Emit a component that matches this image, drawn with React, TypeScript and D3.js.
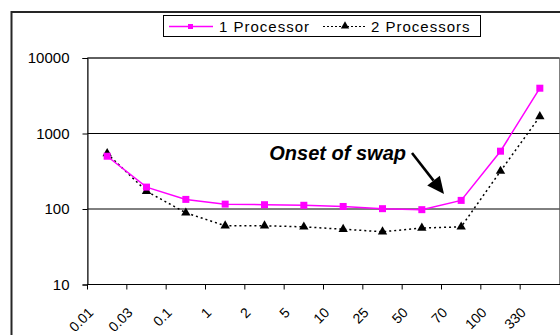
import React, { useRef, useEffect } from 'react';
import * as d3 from 'd3';

// --- Data ---
const categories = ['0.01', '0.03', '0.1', '1', '2', '5', '10', '25', '50', '70', '100', '330'];
const oneProcessor = [500, 195, 134, 116, 114, 112, 108, 101, 98, 130, 583, 3980];
const twoProcessors = [543, 172, 89, 60, 60, 58, 54, 50, 56, 58, 317, 1680];
const yTicks = [10, 100, 1000, 10000];
const seriesNames = ['1 Processor', '2 Processors'];
const annotation = 'Onset of swap';

const FONT = '"Liberation Sans", Arial, sans-serif';

const App = () => {
  const svgRef = useRef<SVGSVGElement>(null);
  const width = 560;
  const height = 335;

  useEffect(() => {
    const svg = d3.select(svgRef.current)
      .attr('width', width)
      .attr('height', height)
      .html('');

    // outer chart frame (runs off the picture on right and bottom)
    svg.append('rect')
      .attr('x', 11.5).attr('y', 12)
      .attr('width', 620).attr('height', 400)
      .attr('fill', '#fff')
      .attr('stroke', '#262626')
      .attr('stroke-width', 2);

    // --- Scales ---
    const x = d3.scaleBand<string>()
      .domain(categories)
      .range([87.5, 559.5]);

    const y = d3.scaleLog()
      .domain([10, 10000])
      .range([284.5, 58]);

    const [x0, x1] = x.range();
    const [yb, yt] = y.range();

    // plot area border
    svg.append('rect')
      .attr('x', x0).attr('y', yt)
      .attr('width', x1 - x0).attr('height', yb - yt)
      .attr('fill', 'none')
      .attr('stroke', '#808080')
      .attr('stroke-width', 1);

    // gridlines
    svg.append('g')
      .selectAll('line')
      .data(yTicks.slice(1))
      .join('line')
      .attr('x1', x0).attr('x2', x1)
      .attr('y1', d => y(d)).attr('y2', d => y(d))
      .attr('stroke', '#000')
      .attr('stroke-width', 1);

    // --- Y axis ---
    const yAxis = d3.axisLeft(y)
      .tickValues(yTicks)
      .tickFormat(d3.format('d'))
      .tickSize(5)
      .tickPadding(13);
    const gy = svg.append('g')
      .attr('transform', `translate(${x0},0)`)
      .call(yAxis);
    gy.select('.domain').attr('stroke', '#000');
    gy.selectAll('.tick line').attr('stroke', '#000');
    gy.selectAll('.tick text')
      .attr('fill', '#000')
      .style('font-family', FONT)
      .style('font-size', '15px');

    // --- X axis (ticks on category boundaries) ---
    svg.append('line')
      .attr('x1', x0).attr('x2', x1 + 2)
      .attr('y1', yb).attr('y2', yb)
      .attr('stroke', '#000');

    const bounds = categories.map(c => x(c) as number);
    svg.append('g')
      .selectAll('line')
      .data(bounds)
      .join('line')
      .attr('x1', d => d).attr('x2', d => d)
      .attr('y1', yb).attr('y2', yb + 5)
      .attr('stroke', '#000');

    svg.append('g')
      .selectAll('text')
      .data(categories)
      .join('text')
      .attr('transform', d => {
        const cx = (x(d) as number) + x.bandwidth() / 2 - 13;
        return `translate(${cx},${yb + 29}) rotate(-45)`;
      })
      .attr('text-anchor', 'end')
      .style('font-family', FONT)
      .style('font-size', '14px')
      .attr('fill', '#000')
      .text(d => d);

    const cx = (d: string) => (x(d) as number) + x.bandwidth() / 2;

    // --- 2 Processors: dotted black line with triangles ---
    const line2 = d3.line<number>()
      .x((d, i) => cx(categories[i]))
      .y(d => y(d));
    svg.append('path')
      .datum(twoProcessors)
      .attr('fill', 'none')
      .attr('stroke', '#000')
      .attr('stroke-width', 1.5)
      .attr('stroke-dasharray', '2,3')
      .attr('d', line2);

    const tri = d3.symbol().type(d3.symbolTriangle).size(38);
    svg.append('g')
      .selectAll('path')
      .data(twoProcessors)
      .join('path')
      .attr('transform', (d, i) => `translate(${cx(categories[i])},${y(d)})`)
      .attr('d', tri)
      .attr('fill', '#000');

    // --- 1 Processor: magenta line with squares ---
    svg.append('path')
      .datum(oneProcessor)
      .attr('fill', 'none')
      .attr('stroke', '#ff00ff')
      .attr('stroke-width', 1.5)
      .attr('d', line2);

    svg.append('g')
      .selectAll('rect')
      .data(oneProcessor)
      .join('rect')
      .attr('x', (d, i) => cx(categories[i]) - 3.5)
      .attr('y', d => y(d) - 3.5)
      .attr('width', 7).attr('height', 7)
      .attr('fill', '#ff00ff');

    // --- Annotation ---
    svg.append('text')
      .attr('x', 406).attr('y', 160)
      .attr('text-anchor', 'end')
      .style('font-family', FONT)
      .style('font-size', '20px')
      .style('font-weight', 'bold')
      .style('font-style', 'italic')
      .attr('fill', '#000')
      .text(annotation);

    // arrow: shaft plus a filled head
    const start: [number, number] = [412, 153];
    const tip: [number, number] = [444, 194];
    const dx = tip[0] - start[0];
    const dy = tip[1] - start[1];
    const len = Math.hypot(dx, dy);
    const ux = dx / len, uy = dy / len;
    const headLen = 17, headHalf = 8;
    const bx = tip[0] - ux * headLen, by = tip[1] - uy * headLen;

    svg.append('line')
      .attr('x1', start[0]).attr('y1', start[1])
      .attr('x2', bx).attr('y2', by)
      .attr('stroke', '#000')
      .attr('stroke-width', 2.6);
    svg.append('path')
      .attr('d', d3.line()([
        tip,
        [bx - uy * headHalf, by + ux * headHalf],
        [bx + uy * headHalf, by - ux * headHalf],
      ]) + 'Z')
      .attr('fill', '#000');

    // --- Legend ---
    const lg = svg.append('g');
    lg.append('rect')
      .attr('x', 163.5).attr('y', 15.5)
      .attr('width', 317).attr('height', 21)
      .attr('fill', '#fff')
      .attr('stroke', '#000')
      .attr('stroke-width', 1);

    lg.append('line')
      .attr('x1', 169).attr('x2', 213)
      .attr('y1', 26.5).attr('y2', 26.5)
      .attr('stroke', '#ff00ff').attr('stroke-width', 1.5);
    lg.append('rect')
      .attr('x', 188).attr('y', 24).attr('width', 5).attr('height', 5)
      .attr('fill', '#ff00ff');
    lg.append('line')
      .attr('x1', 323).attr('x2', 367)
      .attr('y1', 26.5).attr('y2', 26.5)
      .attr('stroke', '#000').attr('stroke-width', 1.2)
      .attr('stroke-dasharray', '2,2');
    lg.append('path')
      .attr('transform', 'translate(345,26)')
      .attr('d', d3.symbol().type(d3.symbolTriangle).size(30))
      .attr('fill', '#000');

    lg.selectAll('text.lbl')
      .data(seriesNames)
      .join('text')
      .attr('class', 'lbl')
      .attr('x', (d, i) => (i === 0 ? 219 : 371))
      .attr('y', 32)
      .style('font-family', FONT)
      .style('font-size', '15px')
      .style('letter-spacing', '1px')
      .attr('fill', '#000')
      .text(d => d);
  }, []);

  return (
    <>
      <style>{'body{margin:0}'}</style>
      <svg ref={svgRef} style={{ display: 'block' }}></svg>
    </>
  );
};

export default App;
